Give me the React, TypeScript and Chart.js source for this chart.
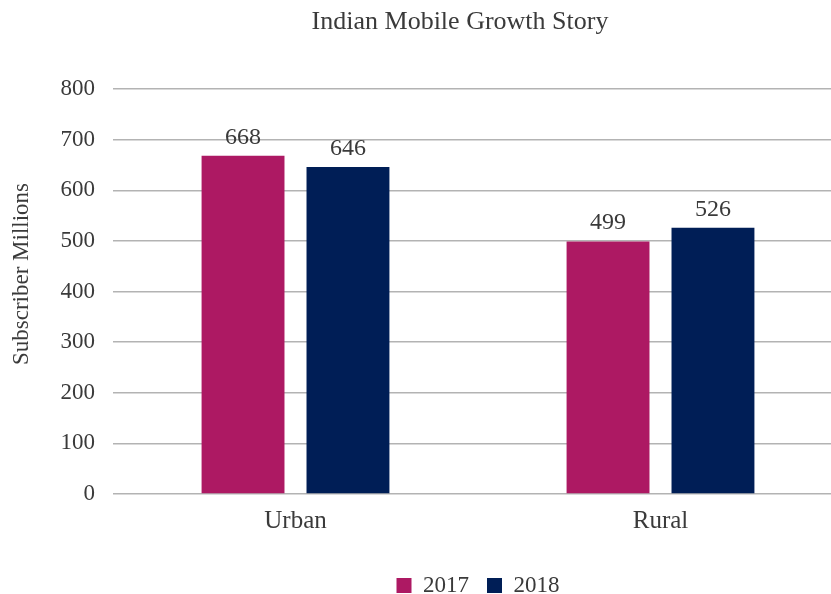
import React, { useEffect, useRef } from "react";
import { Chart, registerables } from "chart.js";

Chart.register(...registerables);

const categories = ["Urban", "Rural"];
const seriesNames = ["2017", "2018"];
const values2017 = [668, 499];
const values2018 = [646, 526];
const seriesColors = ["#AD1963", "#001E56"];
const yMin = 0;
const yMax = 800;
const yStep = 100;
const chartTitle = "Indian Mobile Growth Story";
const yAxisTitle = "Subscriber Millions";

const FONT = "'Liberation Serif', 'Times New Roman', serif";
const TEXT = "#3a3a3a";
const GRID = "#b3b3b3";

export default function App() {
  const ref = useRef<HTMLCanvasElement>(null);

  useEffect(() => {
    document.body.style.margin = "0";
    const canvas = ref.current;
    if (!canvas) return;

    const titlesPlugin = {
      id: "customTitles",
      afterDraw(chart: any) {
        const ctx = chart.ctx;
        ctx.save();
        ctx.fillStyle = TEXT;
        ctx.textAlign = "center";
        ctx.textBaseline = "middle";
        ctx.font = `26px ${FONT}`;
        ctx.fillText(chartTitle, 460, 22);
        ctx.translate(22, 274);
        ctx.rotate(-Math.PI / 2);
        ctx.font = `23px ${FONT}`;
        ctx.fillText(yAxisTitle, 0, 0);
        ctx.restore();
      },
    };

    const valueLabels = {
      id: "valueLabels",
      afterDatasetsDraw(chart: any) {
        const ctx = chart.ctx;
        ctx.save();
        ctx.font = `24px ${FONT}`;
        ctx.fillStyle = TEXT;
        ctx.textAlign = "center";
        ctx.textBaseline = "alphabetic";
        chart.data.datasets.forEach((ds: any, i: number) => {
          const meta = chart.getDatasetMeta(i);
          meta.data.forEach((bar: any, j: number) => {
            ctx.fillText(String(ds.data[j]), bar.x, bar.y - 12);
          });
        });
        ctx.restore();
      },
    };

    const chart = new Chart(canvas, {
      type: "bar",
      data: {
        labels: categories,
        datasets: [
          {
            label: seriesNames[0],
            data: values2017,
            backgroundColor: seriesColors[0],
            barPercentage: 0.79,
            categoryPercentage: 0.575,
          },
          {
            label: seriesNames[1],
            data: values2018,
            backgroundColor: seriesColors[1],
            barPercentage: 0.79,
            categoryPercentage: 0.575,
          },
        ],
      },
      options: {
        responsive: false,
        animation: false,
        layout: { padding: { top: 89, left: 0, right: 0, bottom: -13 } },
        plugins: {
          title: { display: false },
          tooltip: { enabled: false },
          legend: {
            position: "bottom",
            fullSize: false,
            labels: {
              boxWidth: 15,
              boxHeight: 15,
              padding: 18,
              color: TEXT,
              font: { family: FONT, size: 23 },
            },
          },
        },
        scales: {
          x: {
            grid: { display: false },
            border: { display: false },
            ticks: { color: TEXT, font: { family: FONT, size: 25 }, padding: 4 },
            afterFit(scale: any) {
              scale.height = 62;
            },
          },
          y: {
            min: yMin,
            max: yMax,
            ticks: {
              stepSize: yStep,
              padding: 18,
              color: TEXT,
              font: { family: FONT, size: 23 },
            },
            grid: { color: GRID, lineWidth: 1.5, drawTicks: false },
            border: { display: false },
            title: { display: false },
            afterFit(scale: any) {
              scale.width = 113;
            },
          },
        },
      },
      plugins: [titlesPlugin, valueLabels],
    });

    return () => chart.destroy();
  }, []);

  return (
    <div style={{ width: 831, height: 594, overflow: "hidden" }}>
      <canvas
        ref={ref}
        width={843}
        height={594}
        style={{ display: "block", width: 843, height: 594 }}
      />
    </div>
  );
}
